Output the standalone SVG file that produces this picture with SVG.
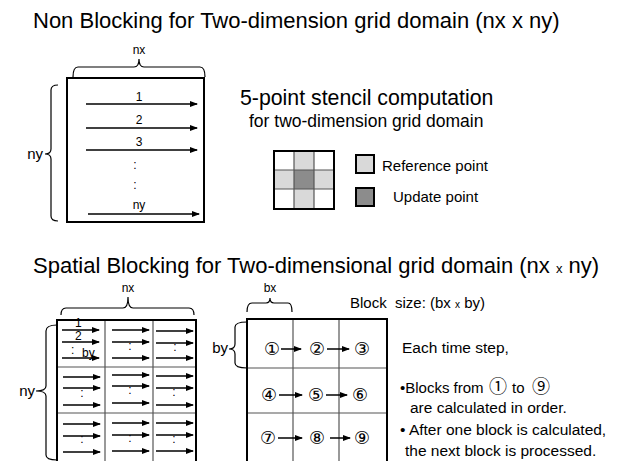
<svg xmlns="http://www.w3.org/2000/svg" width="622" height="461" viewBox="0 0 622 461">
<style>
text{font-family:"Liberation Sans","DejaVu Sans",sans-serif;fill:#000;white-space:pre}
.t{font-size:22px}
.m{font-size:15px}
.n{font-size:15.5px}
.s{font-size:12px}
.c{font-family:"Noto Sans CJK JP","DejaVu Sans",sans-serif;font-size:18px}
.br{fill:none;stroke:#000;stroke-width:1.2}
.ar{stroke:#000;stroke-width:1.5;fill:none;marker-end:url(#ah)}
.box{fill:none;stroke:#000;stroke-width:2}
.gl{stroke:#555;stroke-width:1.2}
.mid{text-anchor:middle}
</style>
<defs>
<marker id="ah" markerUnits="userSpaceOnUse" markerWidth="8" markerHeight="6" refX="7" refY="3" orient="auto">
<path d="M0,0 L8,3 L0,6 z" fill="#000"/>
</marker>
</defs>

<text class="t" x="33" y="28">Non Blocking for Two-dimension grid domain (nx x ny)</text>
<text class="t" x="33" y="273">Spatial Blocking for Two-dimensional grid domain (nx <tspan font-size="13px">x</tspan> ny)</text>

<g id="nonblock-grid">
<rect class="box" x="67" y="78" width="137" height="144"/>
<path class="br" d="M73,77 Q73,67 78,67 L134,67 Q139,67 139,59 Q139,67 144,67 L200,67 Q205,67 205,77"/>
<text class="s mid" x="139" y="54">nx</text>
<path class="br" d="M58,85 Q51,85 51,90 L51,149 Q51,154 45,154 Q51,154 51,159 L51,216 Q51,221 58,221"/>
<text class="m" x="43" y="159" text-anchor="end">ny</text>
<g class="s mid">
<text x="139" y="101">1</text>
<text x="139" y="124">2</text>
<text x="139" y="146">3</text>
<text x="135" y="169">:</text>
<text x="135" y="189">:</text>
<text x="139" y="209">ny</text>
</g>
</g>
<g id="nonblock-arrows">
<line class="ar" x1="86" y1="104" x2="197" y2="104"/>
<line class="ar" x1="86" y1="128" x2="197" y2="128"/>
<line class="ar" x1="86" y1="150" x2="197" y2="150"/>
<line class="ar" x1="88" y1="214" x2="199" y2="214"/>
</g>

<g id="stencil-title">
<text x="240" y="105" font-size="21.3px">5-point stencil computation</text>
<text x="249" y="127" font-size="17.5px">for two-dimension grid domain</text>
</g>
<g id="stencil">
<rect x="294" y="151" width="20" height="58" fill="#d9d9d9"/>
<rect x="274" y="170" width="60" height="19" fill="#d9d9d9"/>
<rect x="294" y="170" width="20" height="19" fill="#8c8c8c"/>
<line class="gl" x1="294" y1="151" x2="294" y2="209"/>
<line class="gl" x1="314" y1="151" x2="314" y2="209"/>
<line class="gl" x1="274" y1="170" x2="334" y2="170"/>
<line class="gl" x1="274" y1="189" x2="334" y2="189"/>
<rect class="box" x="274" y="151" width="60" height="58"/>
</g>
<g id="legend-ref">
<rect x="356" y="155" width="18" height="18" fill="#d9d9d9" stroke="#000" stroke-width="2"/>
<text class="m" x="382" y="171">Reference point</text>
</g>
<g id="legend-upd">
<rect x="356" y="188" width="18" height="18" fill="#8c8c8c" stroke="#000" stroke-width="2"/>
<text class="m" x="393" y="202">Update point</text>
</g>

<g id="spatial-grid">
<path class="br" d="M61,315 Q61,308 66,308 L123,308 Q128,308 128,297 Q128,308 133,308 L189,308 Q194,308 194,315"/>
<text class="s mid" x="128" y="292">nx</text>
<path class="br" d="M57,325 Q46,325 46,331 L46,386 Q46,391 36,391 Q46,391 46,396 L46,455 Q46,460 57,460"/>
<text class="m" x="35" y="396" text-anchor="end">ny</text>
<line class="gl" x1="105" y1="320" x2="105" y2="463"/>
<line class="gl" x1="153" y1="320" x2="153" y2="463"/>
<line class="gl" x1="57" y1="367" x2="196" y2="367"/>
<line class="gl" x1="57" y1="413" x2="196" y2="413"/>
<rect class="box" x="57" y="320" width="139" height="145"/>
<g class="s">
<text x="75" y="327">1</text>
<text x="75" y="340">2</text>
<text x="71" y="354">:</text>
<text x="82" y="357">by</text>
<g class="mid">
<text x="130" y="350">:</text>
<text x="175" y="351">:</text>
<text x="82" y="397">:</text>
<text x="130" y="394">:</text>
<text x="174" y="396">:</text>
<text x="82" y="443">:</text>
<text x="130" y="442">:</text>
<text x="174" y="443">:</text>
</g>
</g>
</g>
<g id="spatial-arrows">
<line class="ar" x1="62" y1="330" x2="99" y2="330"/>
<line class="ar" x1="62" y1="342" x2="99" y2="342"/>
<line class="ar" x1="62" y1="358" x2="99" y2="358"/>
<line class="ar" x1="112" y1="330" x2="149" y2="330"/>
<line class="ar" x1="112" y1="342" x2="149" y2="342"/>
<line class="ar" x1="112" y1="358" x2="149" y2="358"/>
<line class="ar" x1="156" y1="331" x2="193" y2="331"/>
<line class="ar" x1="156" y1="343" x2="193" y2="343"/>
<line class="ar" x1="156" y1="358" x2="193" y2="358"/>
<line class="ar" x1="63" y1="377" x2="100" y2="377"/>
<line class="ar" x1="63" y1="388" x2="100" y2="388"/>
<line class="ar" x1="63" y1="405" x2="100" y2="405"/>
<line class="ar" x1="112" y1="375" x2="149" y2="375"/>
<line class="ar" x1="112" y1="386" x2="149" y2="386"/>
<line class="ar" x1="112" y1="403" x2="149" y2="403"/>
<line class="ar" x1="156" y1="376" x2="193" y2="376"/>
<line class="ar" x1="156" y1="388" x2="193" y2="388"/>
<line class="ar" x1="156" y1="405" x2="193" y2="405"/>
<line class="ar" x1="63" y1="424" x2="100" y2="424"/>
<line class="ar" x1="63" y1="436" x2="100" y2="436"/>
<line class="ar" x1="63" y1="452" x2="100" y2="452"/>
<line class="ar" x1="112" y1="423" x2="149" y2="423"/>
<line class="ar" x1="112" y1="435" x2="149" y2="435"/>
<line class="ar" x1="112" y1="451" x2="149" y2="451"/>
<line class="ar" x1="156" y1="423" x2="193" y2="423"/>
<line class="ar" x1="156" y1="435" x2="193" y2="435"/>
<line class="ar" x1="156" y1="451" x2="193" y2="451"/>
</g>

<g id="block-grid">
<path class="br" d="M247,312 Q247,303 252,303 L266,303 Q270,303 270,298 Q270,303 274,303 L288,303 Q292,303 292,312"/>
<text class="s mid" x="270" y="292">bx</text>
<path class="br" d="M247,322 Q235,322 235,327 L235,344 Q235,349 229,349 Q235,349 235,354 L235,363 Q235,368 247,368"/>
<text class="m" x="228" y="353" text-anchor="end">by</text>
<line class="gl" x1="293" y1="319" x2="293" y2="463"/>
<line class="gl" x1="339" y1="319" x2="339" y2="463"/>
<line class="gl" x1="247" y1="368" x2="387" y2="368"/>
<line class="gl" x1="247" y1="413" x2="387" y2="413"/>
<rect class="box" x="247" y="319" width="140" height="146"/>
<g class="c mid">
<text x="272" y="355">①</text>
<text x="317" y="355">②</text>
<text x="362" y="355">③</text>
<text x="269" y="401">④</text>
<text x="316" y="401">⑤</text>
<text x="360" y="401">⑥</text>
<text x="268" y="444">⑦</text>
<text x="317" y="444">⑧</text>
<text x="362" y="444">⑨</text>
</g>
</g>
<g id="block-arrows">
<line class="ar" x1="281" y1="349" x2="301" y2="349"/>
<line class="ar" x1="327" y1="349" x2="349" y2="349"/>
<line class="ar" x1="279" y1="395" x2="302" y2="395"/>
<line class="ar" x1="326" y1="395" x2="347" y2="395"/>
<line class="ar" x1="278" y1="438" x2="302" y2="438"/>
<line class="ar" x1="330" y1="438" x2="350" y2="438"/>
</g>

<g id="notes" class="n">
<text x="350" y="308" class="m">Block  size: (bx <tspan font-size="10px">x</tspan> by)</text>
<text x="402" y="353">Each time step,</text>
<text x="400" y="393" class="m">•Blocks from<tspan x="489" class="c" font-size="16px">①</tspan><tspan x="512">to</tspan><tspan x="532" class="c" font-size="16px">⑨</tspan></text>
<text x="410" y="413">are calculated in order.</text>
<text x="400" y="435">• After one block is calculated,</text>
<text x="405" y="456">the next block is processed.</text>
</g>
</svg>
